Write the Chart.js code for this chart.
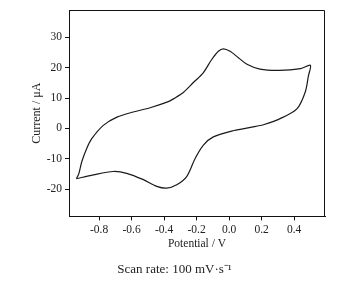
<!DOCTYPE html>
<html>
<head>
<meta charset="utf-8">
<script src="https://cdn.jsdelivr.net/npm/chart.js@4"></script>
<style>
  html, body { margin: 0; padding: 0; background: #fff; }
  #wrap { width: 349px; height: 281px; }
</style>
</head>
<body>
<div id="wrap"><canvas id="cvChart"></canvas></div>
<script>
// CV loop, forward scan then reverse scan
const potential = [
  -0.94, -0.925, -0.906, -0.876, -0.845, -0.774, -0.69, -0.59, -0.486, -0.374,
  -0.34, -0.28, -0.22, -0.158, -0.107, -0.066, -0.035, 0.006, 0.057, 0.11,
  0.19, 0.31, 0.44, 0.50,
  0.488, 0.468, 0.417, 0.314, 0.211, 0.14, 0.03, -0.097, -0.158, -0.209,
  -0.26, -0.322, -0.385, -0.445, -0.527, -0.63, -0.712, -0.835, -0.94
];
const current = [
  -16.6, -15.0, -10.9, -6.6, -3.4, 1.0, 3.7, 5.4, 6.8, 8.8,
  9.8, 11.9, 15.1, 18.4, 22.7, 25.4, 26.2, 25.4, 23.3, 21.1,
  19.5, 19.1, 19.7, 20.8,
  17.3, 11.9, 6.4, 3.2, 1.2, 0.4, -0.7, -2.8, -5.5, -9.9,
  -15.8, -18.6, -19.7, -19.1, -16.9, -14.8, -14.2, -15.3, -16.6
];
const xTicks = [-0.8, -0.6, -0.4, -0.2, 0.0, 0.2, 0.4];
const yTicks = [-20, -10, 0, 10, 20, 30];

const serif = "'Liberation Serif', 'Times New Roman', serif";

// top and right edges of the frame (left/bottom come from the axes)
const frame = {
  id: 'frame',
  afterDraw(chart) {
    const a = chart.chartArea, c = chart.ctx;
    const r = Math.round(a.right) - 0.5, t = Math.round(a.top) + 0.5;
    c.save();
    c.strokeStyle = '#111';
    c.lineWidth = 1;
    c.beginPath();
    c.moveTo(a.left, t);
    c.lineTo(r, t);
    c.lineTo(r, a.bottom);
    c.stroke();
    c.restore();
  }
};

new Chart(document.getElementById('cvChart'), {
  type: 'scatter',
  data: {
    datasets: [{
      data: potential.map((p, i) => ({ x: p, y: current[i] })),
      showLine: true,
      borderColor: '#1a1a1a',
      borderWidth: 1.2,
      tension: 0.3,
      pointRadius: 0
    }]
  },
  options: {
    responsive: true,
    maintainAspectRatio: false,
    animation: false,
    layout: { padding: { top: 10, right: 0, bottom: 0, left: 0 } },
    plugins: {
      legend: { display: false },
      tooltip: { enabled: false },
      title: {
        display: true,
        position: 'bottom',
        text: 'Scan rate: 100 mV\u00b7s\u207b\u00b9',
        color: '#222',
        font: { family: serif, size: 13, weight: 'normal' },
        padding: { top: 4, bottom: 4 }
      }
    },
    scales: {
      x: {
        type: 'linear',
        min: -0.985,
        max: 0.59,
        afterBuildTicks: s => { s.ticks = xTicks.map(v => ({ value: v })); },
        afterFit: s => { s.height = 41; },
        border: { display: true, color: '#111', width: 1 },
        grid: { drawOnChartArea: false, drawTicks: true, tickLength: 4, color: '#111' },
        ticks: {
          color: '#222', padding: 3, maxRotation: 0,
          font: { family: serif, size: 11.5 },
          callback: v => v.toFixed(1)
        },
        title: {
          display: true, text: 'Potential / V', color: '#222',
          font: { family: serif, size: 11.5 },
          padding: { top: 0, bottom: 7 }
        }
      },
      y: {
        min: -29,
        max: 39,
        afterBuildTicks: s => { s.ticks = yTicks.map(v => ({ value: v })); },
        afterFit: s => { s.width = 69; },
        border: { display: true, color: '#111', width: 1 },
        grid: { drawOnChartArea: false, drawTicks: true, tickLength: 4, color: '#111' },
        ticks: {
          color: '#222', padding: 3,
          font: { family: serif, size: 11.5 },
          callback: v => String(v)
        },
        title: {
          display: true, text: 'Current / \u03bcA', color: '#222',
          font: { family: serif, size: 12 },
          padding: { top: 30, bottom: 0 }
        }
      },
      // empty right-hand strip so the plot ends where the reference does
      yRight: {
        position: 'right',
        afterFit: s => { s.width = 24; },
        border: { display: false },
        grid: { display: false, drawTicks: false },
        ticks: { display: false }
      }
    }
  },
  plugins: [frame]
});
</script>
</body>
</html>
